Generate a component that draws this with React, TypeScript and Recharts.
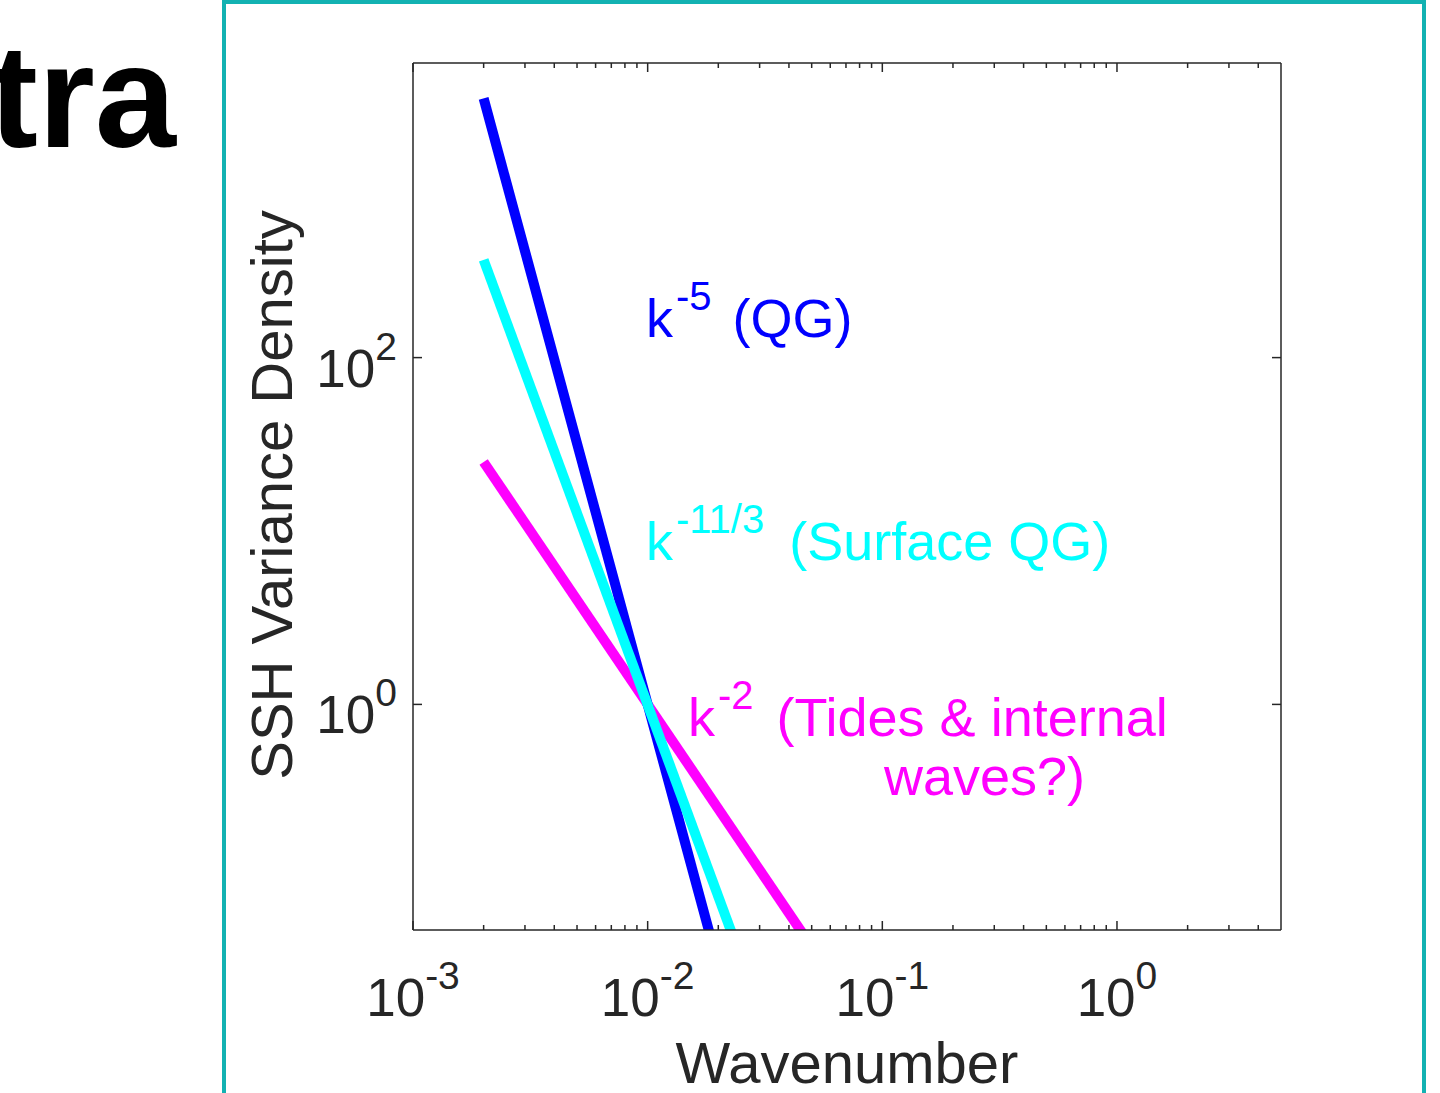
import React from "react";
import { Line, LineChart, XAxis, YAxis } from "recharts";

// power-law reference spectra, all normalised to 1 at k = 0.01
const qgSpectrum = [
  { k: 0.002, v: 3125 },
  { k: 0.05, v: 0.00032 },
];
const sqgSpectrum = [
  { k: 0.002, v: 366 },
  { k: 0.05, v: 0.0027 },
];
const tideSpectrum = [
  { k: 0.002, v: 25 },
  { k: 0.05, v: 0.04 },
];

const xMajorTicks = [0.001, 0.01, 0.1, 1];
const xTickExponents = ["-3", "-2", "-1", "0"];
const xMinorTicks = [
  0.002, 0.003, 0.004, 0.005, 0.006, 0.007, 0.008, 0.009,
  0.02, 0.03, 0.04, 0.05, 0.06, 0.07, 0.08, 0.09,
  0.2, 0.3, 0.4, 0.5, 0.6, 0.7, 0.8, 0.9,
  2, 3, 4,
];
const yMajorTicks = [1, 100];
const yTickExponents = ["0", "2"];

const xTicks = [...xMajorTicks, ...xMinorTicks];

const AXIS = "#262626";
const FONT = "'Liberation Sans', Arial, Helvetica, sans-serif";
const BLUE = "#0000FF";
const CYAN = "#00FFFF";
const MAGENTA = "#FF00FF";

function BottomTick(props: any) {
  const { x, y, payload } = props;
  const i = xMajorTicks.indexOf(payload.value);
  const major = i >= 0;
  return (
    <g>
      <line x1={x} x2={x} y1={y} y2={y - (major ? 9 : 5)} stroke={AXIS} strokeWidth={1.5} />
      {major && (
        <text x={x} y={y + 86} textAnchor="middle" fill={AXIS} fontFamily={FONT} fontSize={53}>
          <tspan>10</tspan>
          <tspan dy={-27} fontSize={39}>{xTickExponents[i]}</tspan>
        </text>
      )}
    </g>
  );
}

function TopTick(props: any) {
  const { x, y, payload } = props;
  const major = xMajorTicks.includes(payload.value);
  return <line x1={x} x2={x} y1={y} y2={y + (major ? 9 : 5)} stroke={AXIS} strokeWidth={1.5} />;
}

function LeftTick(props: any) {
  const { x, y, payload } = props;
  const i = yMajorTicks.indexOf(payload.value);
  return (
    <g>
      <line x1={x} x2={x + 9} y1={y} y2={y} stroke={AXIS} strokeWidth={1.5} />
      <text x={x - 16} y={y + 29} textAnchor="end" fill={AXIS} fontFamily={FONT} fontSize={53}>
        <tspan>10</tspan>
        <tspan dy={-27} fontSize={39}>{yTickExponents[i]}</tspan>
      </text>
    </g>
  );
}

function RightTick(props: any) {
  const { x, y } = props;
  return <line x1={x} x2={x - 9} y1={y} y2={y} stroke={AXIS} strokeWidth={1.5} />;
}

export default function App() {
  return (
    <div
      style={{
        position: "absolute",
        left: 0,
        top: 0,
        width: 1440,
        height: 1093,
        overflow: "hidden",
        background: "#fff",
      }}
    >
      <LineChart
        width={1440}
        height={1093}
        margin={{ top: 62, right: 158, bottom: 0, left: 0 }}
      >
        <XAxis
          dataKey="k"
          type="number"
          scale="log"
          domain={[0.001, 5]}
          allowDataOverflow
          ticks={xTicks}
          interval={0}
          tickSize={0}
          tickMargin={0}
          tickLine={false}
          height={163}
          axisLine={{ stroke: AXIS, strokeWidth: 1.5 }}
          tick={(p: any) => <BottomTick {...p} />}
        />
        <XAxis
          xAxisId="top"
          dataKey="k"
          orientation="top"
          type="number"
          scale="log"
          domain={[0.001, 5]}
          allowDataOverflow
          ticks={xTicks}
          interval={0}
          tickSize={0}
          tickMargin={0}
          tickLine={false}
          height={1}
          axisLine={{ stroke: AXIS, strokeWidth: 1.5 }}
          tick={(p: any) => <TopTick {...p} />}
        />
        <YAxis
          type="number"
          scale="log"
          domain={[0.05, 5000]}
          allowDataOverflow
          ticks={yMajorTicks}
          interval={0}
          tickSize={0}
          tickMargin={0}
          tickLine={false}
          width={413}
          axisLine={{ stroke: AXIS, strokeWidth: 1.5 }}
          tick={(p: any) => <LeftTick {...p} />}
        />
        <YAxis
          yAxisId="right"
          orientation="right"
          type="number"
          scale="log"
          domain={[0.05, 5000]}
          allowDataOverflow
          ticks={yMajorTicks}
          interval={0}
          tickSize={0}
          tickMargin={0}
          tickLine={false}
          width={1}
          axisLine={{ stroke: AXIS, strokeWidth: 1.5 }}
          tick={(p: any) => <RightTick {...p} />}
        />
        {/* invisible copy so the mirrored top/right axes are bound to a series */}
        <Line
          xAxisId="top"
          yAxisId="right"
          data={tideSpectrum}
          dataKey="v"
          stroke="none"
          dot={false}
          activeDot={false}
          isAnimationActive={false}
        />
        <Line
          data={tideSpectrum}
          dataKey="v"
          type="linear"
          stroke={MAGENTA}
          strokeWidth={10}
          strokeLinecap="butt"
          dot={false}
          activeDot={false}
          isAnimationActive={false}
        />
        <Line
          data={qgSpectrum}
          dataKey="v"
          type="linear"
          stroke={BLUE}
          strokeWidth={10}
          strokeLinecap="butt"
          dot={false}
          activeDot={false}
          isAnimationActive={false}
        />
        <Line
          data={sqgSpectrum}
          dataKey="v"
          type="linear"
          stroke={CYAN}
          strokeWidth={10}
          strokeLinecap="butt"
          dot={false}
          activeDot={false}
          isAnimationActive={false}
        />
      </LineChart>

      <svg
        width={1440}
        height={1093}
        style={{ position: "absolute", left: 0, top: 0, pointerEvents: "none" }}
        fontFamily={FONT}
      >
        {/* slide title, cut off at the left edge */}
        <text x={176} y={147} textAnchor="end" fontSize={146} fontWeight="bold" fill="#000">
          Spectra
        </text>
        {/* panel frame */}
        <rect x={224} y={2} width={1200} height={1200} fill="none" stroke="#12B2B2" strokeWidth={4} />

        {/* axis titles */}
        <text x={847} y={1083} textAnchor="middle" fontSize={58} fill={AXIS}>
          Wavenumber
        </text>
        <text
          x={292}
          y={495}
          textAnchor="middle"
          fontSize={58}
          fill={AXIS}
          transform="rotate(-90, 292, 495)"
        >
          SSH Variance Density
        </text>

        {/* slope annotations */}
        <text x={646} y={337} fontSize={54} fill={BLUE}>
          <tspan>k</tspan>
          <tspan dx={3} dy={-27} fontSize={40}>-5</tspan>
          <tspan dx={6} dy={27}> (QG)</tspan>
        </text>
        <text x={646} y={560} fontSize={54} fill={CYAN}>
          <tspan>k</tspan>
          <tspan dx={3} dy={-27} fontSize={40}>-11/3</tspan>
          <tspan dx={10} dy={27}> (Surface QG)</tspan>
        </text>
        <text x={688} y={736} fontSize={54} fill={MAGENTA}>
          <tspan>k</tspan>
          <tspan dx={3} dy={-27} fontSize={40}>-2</tspan>
          <tspan dx={8} dy={27}> (Tides &amp; internal</tspan>
        </text>
        <text x={884} y={795} fontSize={54} fill={MAGENTA}>
          waves?)
        </text>
      </svg>
    </div>
  );
}
